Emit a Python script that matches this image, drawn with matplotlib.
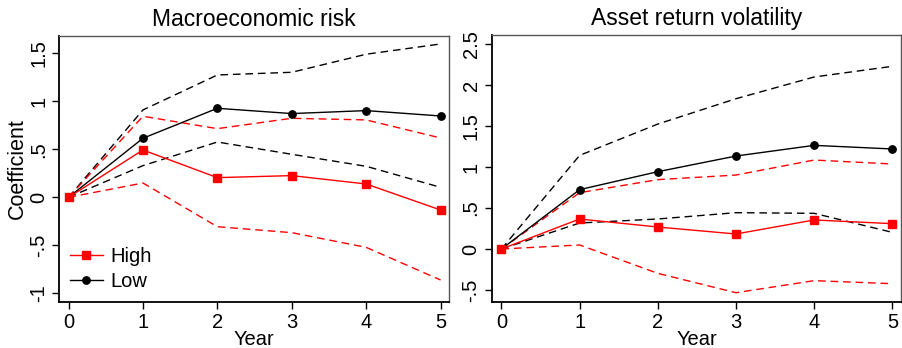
import matplotlib
matplotlib.use("Agg")
import matplotlib.pyplot as plt

plt.rcParams['font.family'] = ['Liberation Sans', 'DejaVu Sans']

years = [0, 1, 2, 3, 4, 5]

# Panel 1: Macroeconomic risk
macro_high = [0, 0.493, 0.205, 0.226, 0.139, -0.132]
macro_high_ub = [0, 0.844, 0.715, 0.823, 0.806, 0.618]
macro_high_lb = [0, 0.149, -0.306, -0.368, -0.521, -0.861]
macro_low = [0, 0.615, 0.927, 0.872, 0.903, 0.847]
macro_low_ub = [0, 0.91, 1.274, 1.302, 1.49, 1.597]
macro_low_lb = [0, 0.33, 0.576, 0.448, 0.323, 0.104]

# Panel 2: Asset return volatility
vol_high = [0, 0.366, 0.268, 0.183, 0.354, 0.309]
vol_high_ub = [0, 0.687, 0.846, 0.902, 1.085, 1.037]
vol_high_lb = [0, 0.049, -0.297, -0.533, -0.386, -0.423]
vol_low = [0, 0.724, 0.943, 1.134, 1.264, 1.22]
vol_low_ub = [0, 1.142, 1.524, 1.833, 2.098, 2.228]
vol_low_lb = [0, 0.317, 0.366, 0.443, 0.435, 0.203]

titles = ["Macroeconomic risk", "Asset return volatility"]
ytick_vals = [[-1, -0.5, 0, 0.5, 1, 1.5], [-0.5, 0, 0.5, 1, 1.5, 2, 2.5]]
ytick_labels = [["-1", "-.5", "0", ".5", "1", "1.5"],
                ["-.5", "0", ".5", "1", "1.5", "2", "2.5"]]
ylims = [(-1.09, 1.68), (-0.643, 2.61)]

fig = plt.figure(figsize=(9.02, 3.48), dpi=100)
ax1 = fig.add_axes([0.0657, 0.1322, 0.4324, 0.7644])
ax2 = fig.add_axes([0.5451, 0.1330, 0.4543, 0.7664])

panels = [
    (ax1, macro_high, macro_high_ub, macro_high_lb, macro_low, macro_low_ub, macro_low_lb),
    (ax2, vol_high, vol_high_ub, vol_high_lb, vol_low, vol_low_ub, vol_low_lb),
]

fs = 14.5
dash = (5.5, 3.5)
for i, (ax, hi, hiu, hil, lo, lou, lol) in enumerate(panels):
    ax.plot(years, lou, color='black', lw=1.0, dashes=dash, zorder=2)
    ax.plot(years, lol, color='black', lw=1.0, dashes=dash, zorder=2)
    ax.plot(years, hiu, color='red', lw=1.0, dashes=dash, zorder=2)
    ax.plot(years, hil, color='red', lw=1.0, dashes=dash, zorder=2)
    ax.plot(years, lo, color='black', lw=1.0, marker='o', ms=5.3, zorder=3, label='Low')
    ax.plot(years, hi, color='red', lw=1.0, marker='s', ms=5.5, zorder=4, label='High')

    ax.set_xlim(-0.125, 5.117)
    ax.set_ylim(*ylims[i])
    ax.set_xticks(years)
    ax.set_xticklabels([str(y) for y in years], fontsize=fs)
    ax.set_yticks(ytick_vals[i])
    ax.set_yticklabels(ytick_labels[i], fontsize=fs, rotation=90, va='center')
    ax.tick_params(axis='both', direction='out', length=5, width=1.0, color='black', pad=3)
    ax.set_title(titles[i], fontsize=16.5, pad=7)
    ax.set_xlabel("Year", fontsize=fs, labelpad=-1.5)
    for s in ['left', 'bottom']:
        ax.spines[s].set_color('black')
        ax.spines[s].set_linewidth(1.3)
    for s in ['top', 'right']:
        ax.spines[s].set_color('#555555')
        ax.spines[s].set_linewidth(1.0)

ax1.set_ylabel("Coefficient", fontsize=15.5, labelpad=1)

h, l = ax1.get_legend_handles_labels()
ax1.legend(h[::-1], l[::-1], loc='lower left', frameon=False, fontsize=fs,
           handlelength=1.6, handletextpad=0.4, borderaxespad=0.15, labelspacing=0.3)

fig.savefig("out.png", dpi=100)
